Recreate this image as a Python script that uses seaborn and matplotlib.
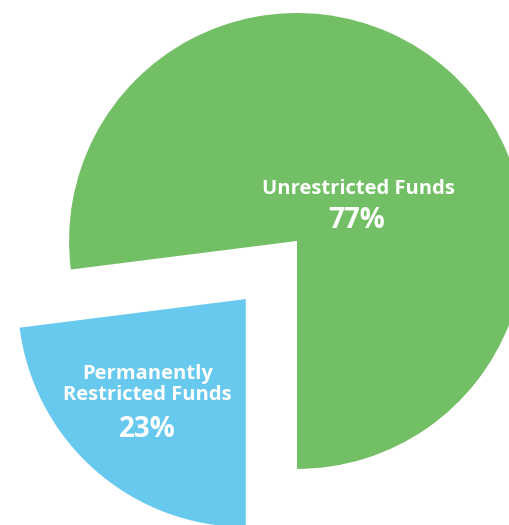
import matplotlib
matplotlib.use("Agg")
import matplotlib.pyplot as plt
import seaborn as sns

labels = ["Unrestricted Funds", "Permanently\nRestricted Funds"]
shares = [77, 23]
colors = ["#73bf65", "#68c9ef"]
explode = [0, 0.34]


def draw():
    sns.set_theme(style="white")
    plt.rcParams['font.family'] = ['Open Sans', 'DejaVu Sans']
    fig = plt.figure(figsize=(5.09, 5.25), dpi=100)
    ax = fig.add_axes([0, 0, 1, 1])
    ax.pie(shares, colors=colors, explode=explode, startangle=-90,
           counterclock=True, radius=1,
           wedgeprops=dict(linewidth=0))
    ax.set_xlim(-1.303, 0.930)
    ax.set_ylim(-1.246, 1.057)
    ax.set_aspect('equal')
    ax.axis('off')

    # labels inside the wedges
    ax.text(0.268, 0.228, labels[0], color='white', fontsize=14.5,
            fontweight='bold', ha='center', va='center')
    ax.text(0.26, 0.09, f"{shares[0]}%", color='white', fontsize=20,
            fontweight='bold', ha='center', va='center')
    ax.text(-0.655, -0.63, labels[1], color='white', fontsize=14.5,
            fontweight='bold', ha='center', va='center', linespacing=1.05)
    ax.text(-0.655, -0.825, f"{shares[1]}%", color='white', fontsize=20,
            fontweight='bold', ha='center', va='center')

    fig.savefig('out.png', dpi=100)


if __name__ == '__main__':
    draw()
